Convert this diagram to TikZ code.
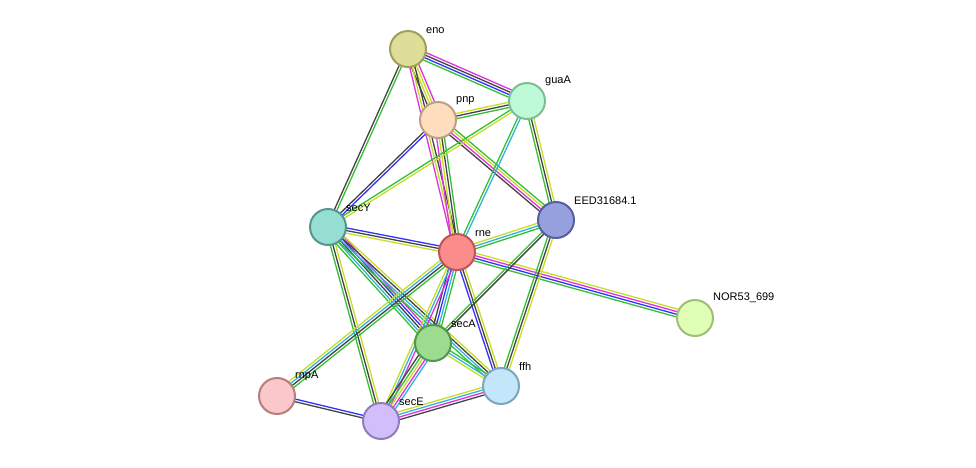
\documentclass[tikz,border=0pt]{standalone}
\usepackage{fontspec}
\setmainfont{Liberation Sans}
\usetikzlibrary{calc}
\definecolor{g}{HTML}{33C033}
\definecolor{k}{HTML}{444444}
\definecolor{b}{HTML}{3333FF}
\definecolor{m}{HTML}{DD33DD}
\definecolor{y}{HTML}{C8DC2A}
\definecolor{c}{HTML}{33B4E0}
\tikzset{prot/.style={circle,draw,line width=2pt,minimum size=36pt,inner sep=0pt},
lab/.style={font=\fontsize{11}{12}\selectfont,anchor=south west,inner sep=1pt}}
\newcommand\sedge[3]{%
\foreach \c [count=\i] in {#3}{\xdef\mynum{\i}}%
\foreach \c [count=\i] in {#3}{%
\pgfmathsetmacro\off{(\i-(\mynum+1)/2)*2.6}%
\draw[draw=\c,line width=1.3pt] ($(#1)!\off pt!90:(#2)$) -- ($(#2)!\off pt!-90:(#1)$);}}
\begin{document}
\begin{tikzpicture}[x=1pt,y=-1pt]
\useasboundingbox[fill=white] (0,0) rectangle (976,467);
\coordinate (eno) at (408,49);
\coordinate (guaA) at (527,101);
\coordinate (pnp) at (438,120);
\coordinate (EED) at (556,220);
\coordinate (secY) at (328,227);
\coordinate (rne) at (457,252);
\coordinate (NOR) at (695,318);
\coordinate (secA) at (433,343);
\coordinate (rnpA) at (277,396);
\coordinate (ffh) at (501,386);
\coordinate (secE) at (381,421);
\sedge{eno}{guaA}{g,b,k,m}
\sedge{eno}{pnp}{k,y,y,m}
\sedge{eno}{rne}{m,y,k}
\sedge{eno}{secY}{k,g}
\sedge{pnp}{guaA}{g,k,y}
\sedge{pnp}{secY}{k,b}
\sedge{pnp}{rne}{m,y,k,g}
\sedge{pnp}{EED}{k,m,y,g}
\sedge{guaA}{secY}{g,y}
\sedge{guaA}{rne}{g,c}
\sedge{guaA}{EED}{g,k,y}
\sedge{secY}{rne}{y,k,b}
\sedge{secY}{secA}{g,c,k,b,m}
\sedge{secY}{ffh}{g,c,k,y}
\sedge{secY}{secE}{g,k,y}
\sedge{rne}{EED}{g,c,y}
\sedge{rne}{NOR}{g,b,m,y}
\sedge{rne}{secA}{k,b,c,g}
\sedge{rne}{ffh}{b,k,y}
\sedge{rne}{secE}{y,c,m}
\sedge{rne}{rnpA}{y,c,k,g}
\sedge{EED}{secA}{g,k}
\sedge{EED}{ffh}{g,k,y}
\sedge{secA}{ffh}{y,c,g}
\sedge{secA}{secE}{k,g,y,m,c}
\sedge{ffh}{secE}{y,c,m,k}
\sedge{rnpA}{secE}{k,b}
\node[prot,fill={rgb,255:red,222;green,222;blue,153},draw={rgb,255:red,160;green,160;blue,90}] (n1) at (eno) {};
\node[prot,fill={rgb,255:red,190;green,250;blue,215},draw={rgb,255:red,125;green,190;blue,150}] (n2) at (guaA) {};
\node[prot,fill={rgb,255:red,255;green,222;blue,190},draw={rgb,255:red,190;green,160;blue,130}] (n3) at (pnp) {};
\node[prot,fill={rgb,255:red,150;green,160;blue,222},draw={rgb,255:red,85;green,95;blue,160}] (n4) at (EED) {};
\node[prot,fill={rgb,255:red,150;green,222;blue,210},draw={rgb,255:red,85;green,150;blue,145}] (n5) at (secY) {};
\node[prot,fill={rgb,255:red,250;green,140;blue,140},draw={rgb,255:red,190;green,85;blue,85}] (n6) at (rne) {};
\node[prot,fill={rgb,255:red,222;green,255;blue,180},draw={rgb,255:red,160;green,190;blue,120}] (n7) at (NOR) {};
\node[prot,fill={rgb,255:red,155;green,220;blue,145},draw={rgb,255:red,85;green,150;blue,80}] (n8) at (secA) {};
\node[prot,fill={rgb,255:red,250;green,200;blue,200},draw={rgb,255:red,185;green,125;blue,125}] (n9) at (rnpA) {};
\node[prot,fill={rgb,255:red,195;green,230;blue,250},draw={rgb,255:red,125;green,165;blue,190}] (n10) at (ffh) {};
\node[prot,fill={rgb,255:red,210;green,190;blue,250},draw={rgb,255:red,145;green,125;blue,190}] (n11) at (secE) {};
\node[lab] at (425,35) {eno};
\node[lab] at (544,87) {guaA};
\node[lab] at (455,106) {pnp};
\node[lab] at (573,206) {EED31684.1};
\node[lab] at (345,213) {secY};
\node[lab] at (474,238) {rne};
\node[lab] at (712,304) {NOR53\_699};
\node[lab] at (450,329) {secA};
\node[lab] at (294,382) {rnpA};
\node[lab] at (518,372) {ffh};
\node[lab] at (398,407) {secE};
\end{tikzpicture}
\end{document}
